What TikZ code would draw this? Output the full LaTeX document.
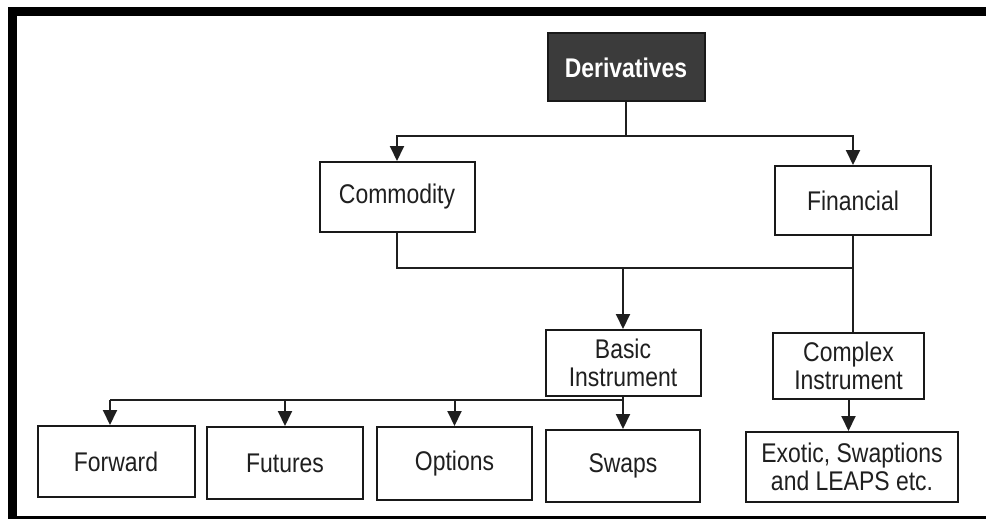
\documentclass[tikz,border=0pt]{standalone}
\usepackage{fontspec}
\setmainfont{Liberation Sans}[FakeStretch=0.85]
\usetikzlibrary{arrows.meta,calc}
\tikzset{
  box/.style={draw=black!90, line width=2pt, fill=white, rectangle, inner sep=0pt,
    align=center, font=\fontsize{27}{28}\selectfont, text=black!88},
  topbox/.style={box, fill=black!77, text=white, font=\fontsize{27}{28}\selectfont\bfseries},
  conn/.style={line width=2pt, draw=black!88},
  arr/.style={conn, -{Triangle[width=14pt,length=15pt]}},
  frame/.style={fill=black, draw=none}
}
\begin{document}
\begin{tikzpicture}[x=1pt,y=-1pt]
\useasboundingbox (0,0) rectangle (986,519);
\fill[white] (0,0) rectangle (986,519);
% frame
\fill[frame] (8,7) rectangle (986,16);
\fill[frame] (8,7) rectangle (17,519);
\fill[frame] (8,516) rectangle (986,519);

% nodes
\node[topbox, minimum width=157pt, minimum height=68pt] (der) at (626,67.5) {Derivatives};
\node[box, minimum width=155pt, minimum height=70pt] (com) at (397,197) {Commodity};
\node[box, minimum width=156pt, minimum height=69pt] (fin) at (853,200.5) {Financial};
\node[box, minimum width=155pt, minimum height=66pt] (bas) at (623,363) {Basic\\Instrument};
\node[box, minimum width=151pt, minimum height=66pt] (cpx) at (848.5,366) {Complex\\Instrument};
\node[box, minimum width=157pt, minimum height=71pt] (fwd) at (116,461.5) {Forward};
\node[box, minimum width=156pt, minimum height=72pt] (fut) at (285,463) {Futures};
\node[box, minimum width=155pt, minimum height=73pt] (opt) at (454.5,463.5) {Options};
\node[box, minimum width=154pt, minimum height=72pt] (swp) at (623,466) {Swaps};
\node[box, minimum width=212pt, minimum height=70pt] (exo) at (852,467) {Exotic, Swaptions\\and LEAPS etc.};

% level 1
\coordinate (j1) at (626,136);
\draw[conn] (der.south) -- (j1);
\draw[arr] (j1) -| (com.north);
\draw[arr] (j1) -| (fin.north);

% level 2
\coordinate (j2) at (853,268);
\coordinate (j3) at (623,268);
\draw[conn] (com.south) |- (j2);
\draw[conn] (fin.south) -- (fin.south |- cpx.north);
\draw[arr] (j3) -- (bas.north);

% level 3
\coordinate (b1) at (110,400);
\draw[conn] (bas.south) |- (b1);
\draw[arr] (b1) -- (b1 |- fwd.north);
\draw[arr] (fut.north |- b1) -- (fut.north);
\draw[arr] (opt.north |- b1) -- (opt.north);
\draw[arr] (swp.north |- b1) -- (swp.north);
\draw[arr] (cpx.south) -- (cpx.south |- exo.north);
\end{tikzpicture}
\end{document}
